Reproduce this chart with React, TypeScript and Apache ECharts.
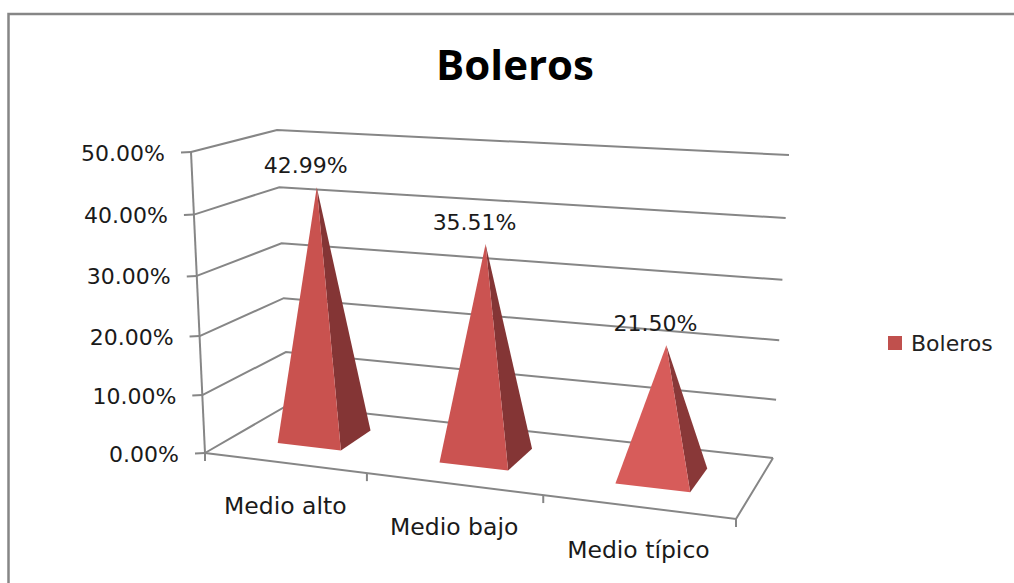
import React, { useEffect, useRef } from "react";
import * as echarts from "echarts";

const title = "Boleros";
const seriesName = "Boleros";
const categories = ["Medio alto", "Medio bajo", "Medio típico"];
const values = [42.99, 35.51, 21.5];
const valueTicks = [0, 10, 20, 30, 40, 50];
const faceColors = ["#C9524F", "#CB5351", "#D75C5A"];
const sideColors = ["#843535", "#843535", "#893838"];

const FONT = "'DejaVu Sans'";
const LINE = "#868686";
const GRID_W = 1000;
const GRID_H = 500;

type P = [number, number];
function quad(p0: P, p1: P, p2: P, p3: P) {
  const dx1 = p1[0] - p2[0], dx2 = p3[0] - p2[0], sx = p0[0] - p1[0] + p2[0] - p3[0];
  const dy1 = p1[1] - p2[1], dy2 = p3[1] - p2[1], sy = p0[1] - p1[1] + p2[1] - p3[1];
  const det = dx1 * dy2 - dx2 * dy1;
  const g = (sx * dy2 - dx2 * sy) / det;
  const h = (dx1 * sy - sx * dy1) / det;
  const a = p1[0] - p0[0] + g * p1[0], b = p3[0] - p0[0] + h * p3[0], c = p0[0];
  const d = p1[1] - p0[1] + g * p1[1], e = p3[1] - p0[1] + h * p3[1], f = p0[1];
  return (u: number, v: number): P => {
    const w = g * u + h * v + 1;
    return [(a * u + b * v + c) / w, (d * u + e * v + f) / w];
  };
}
// Perspective frame of the plot: floor and ceiling of the 3D box
const floor = quad([205, 453], [736, 519], [773, 458], [288, 405]);
const ceil = quad([191, 152], [756, 184], [789, 155], [277, 130]);
function project(u: number, h: number, d: number): P {
  const a = floor(u, d), b = ceil(u, d);
  const t = h / (1.05 - 0.05 * h);
  return [a[0] + (b[0] - a[0]) * t, a[1] + (b[1] - a[1]) * t];
}
const line = (pts: P[], z = 0) => ({
  type: "polyline",
  z2: z,
  shape: { points: pts },
  style: { stroke: LINE, lineWidth: 2, fill: "none" },
});
const label = (x: number, y: number, text: string, align: string, size: number, z = 10) => ({
  type: "text",
  z2: z,
  style: { x, y, text, fill: "#1a1a1a", font: `${size}px ${FONT}`, align, verticalAlign: "middle" },
});

const BASE_HALF_U = 0.0667;
const BASE_D0 = 0.3;
const BASE_D1 = 0.7;

function App() {
  const ref = useRef<HTMLDivElement>(null);
  useEffect(() => {
    document.body.style.margin = "0";
    const chart = echarts.init(ref.current!, undefined, { renderer: "svg" });
    const heightOf = (api: any, v: number) => (GRID_H - api.coord([0, v])[1]) / GRID_H;

    const renderFrame = (params: any, api: any) => {
      const v = api.value(1);
      const h = heightOf(api, v);
      const frontLeft = project(0, h, 0);
      const children: any[] = [
        line([frontLeft, project(0, h, 1), project(1, h, 1)]),
        line([[frontLeft[0] - 10, frontLeft[1] + 0.5], frontLeft]),
        label(frontLeft[0] - 26, frontLeft[1] + 1, v.toFixed(2) + "%", "right", 22),
      ];
      if (v === valueTicks[0]) {
        children.push(line([project(0, 0, 0), project(1, 0, 0), project(1, 0, 1)]));
        children.push(line([project(0, 1, 0), project(0, 0, 0)]));
        const a = project(0, 0, 0);
        children.push(line([a, [a[0], a[1] + 8]]));
        for (let i = 1; i <= categories.length; i++) {
          const t = project(i / categories.length, 0, 0);
          children.push(line([t, [t[0], t[1] + 8]]));
        }
      }
      return { type: "group", children };
    };

    const renderPyramid = (params: any, api: any) => {
      const idx = api.value(0);
      const v = api.value(1);
      const u = api.coord([idx, v])[0] / GRID_W;
      const h = heightOf(api, v);
      const fl = project(u - BASE_HALF_U, 0, BASE_D0);
      const fr = project(u + BASE_HALF_U, 0, BASE_D0);
      const br = project(u + BASE_HALF_U, 0, BASE_D1);
      const apex = project(u, h, (BASE_D0 + BASE_D1) / 2);
      const front = project(u, 0, 0);
      return {
        type: "group",
        children: [
          { type: "polygon", z2: 3, shape: { points: [fr, br, apex] }, style: { fill: sideColors[idx] } },
          { type: "polygon", z2: 4, shape: { points: [fl, fr, apex] }, style: { fill: faceColors[idx] } },
          label(apex[0] - 11, apex[1] - 22, v.toFixed(2) + "%", "center", 22, 12),
          label(front[0] + 1, front[1] + 43.5, categories[idx], "center", 23.5, 12),
        ],
      };
    };

    chart.setOption({
      animation: false,
      title: {
        text: title,
        left: 510,
        top: 37,
        textAlign: "center",
        textStyle: { fontFamily: "'Open Sans'", fontSize: 42, fontWeight: "bold", color: "#000" },
      },
      legend: {
        data: [seriesName],
        left: 888,
        top: 332,
        padding: 0,
        itemWidth: 14,
        itemHeight: 14,
        icon: "rect",
        selectedMode: false,
        textStyle: { fontFamily: FONT, fontSize: 22, color: "#222", padding: [0, 0, 0, 4] },
      },
      grid: { left: 0, top: 0, width: GRID_W, height: GRID_H },
      xAxis: { type: "category", data: categories, show: false },
      yAxis: { type: "value", min: 0, max: 50, interval: 10, show: false },
      graphic: [
        {
          type: "polyline",
          silent: true,
          shape: { points: [[8.5, 583], [8.5, 14], [1014, 14]] },
          style: { stroke: LINE, lineWidth: 2.5, fill: "none" },
        },
      ],
      series: [
        {
          type: "custom",
          name: "frame",
          silent: true,
          clip: false,
          z: 1,
          data: valueTicks.map((v) => [0, v]),
          renderItem: renderFrame,
        },
        {
          type: "custom",
          name: seriesName,
          silent: true,
          clip: false,
          z: 2,
          itemStyle: { color: "#C0504D" },
          data: values.map((v, i) => [i, v]),
          renderItem: renderPyramid,
        },
      ],
    });
    return () => chart.dispose();
  }, []);
  return <div ref={ref} style={{ position: "absolute", left: 0, top: 0, width: 1014, height: 583 }} />;
}

export default App;
